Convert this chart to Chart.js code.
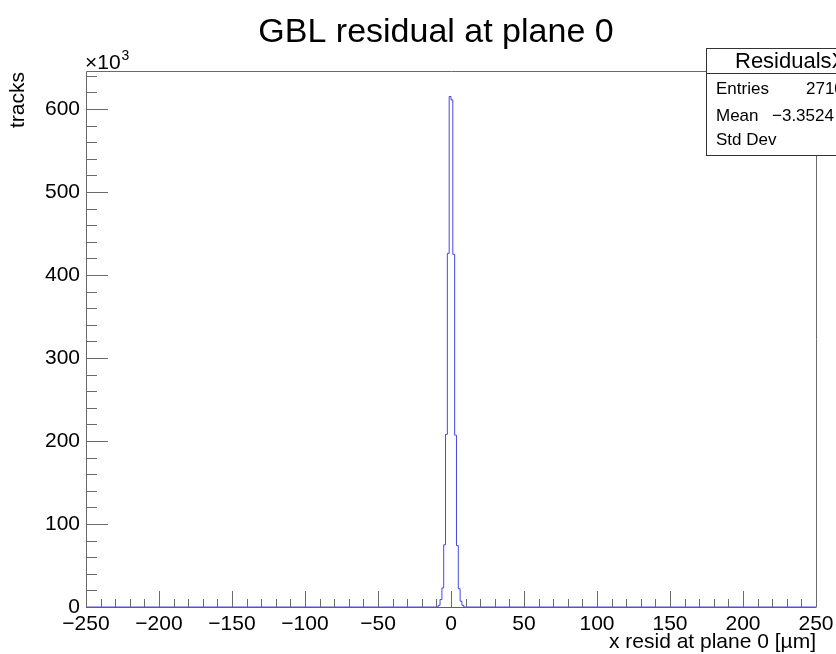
<!DOCTYPE html>
<html>
<head>
<meta charset="utf-8">
<script src="https://cdn.jsdelivr.net/npm/chart.js@4.4.0/dist/chart.umd.min.js"></script>
<style>
  html, body { margin: 0; padding: 0; background: #fff; }
  #hist { display: block; }
</style>
</head>
<body>
<canvas id="hist" width="836" height="654"></canvas>
<script>
// binning of the residual histogram (um)
var xLow = -250;
var xHigh = 250;
var nBins = 400;
// filled bins around zero, first one is bin index firstBin
var firstBin = 193;
var peakCounts = [2000, 9000, 23000, 75000, 208000, 426000, 615000, 611000, 425000, 207000, 74000, 22000, 7000, 2000];
var xTicks = [-250, -200, -150, -100, -50, 0, 50, 100, 150, 200, 250];
var yTicks = [0, 100000, 200000, 300000, 400000, 500000, 600000];
var statNames = ['Entries', 'Mean', 'Std Dev'];
var statValues = ['2710434', '\u22123.3524', ''];

var FONT = "'Liberation Sans', Arial, Helvetica, sans-serif";
var binWidth = (xHigh - xLow) / nBins;
var points = [];
for (var i = 0; i < nBins; i++) {
    var k = i - firstBin;
    var c = (k >= 0 && k < peakCounts.length) ? peakCounts[k] : 0;
    points.push({x: xLow + i * binWidth, y: c});
}
points.push({x: xHigh, y: 0});
var yMax = Math.max.apply(null, peakCounts) * 1.05;

function minus(s) {
    return String(s).replace('-', '\u2212');
}

// ROOT style frame: inward ticks, x10^3 exponent, stats box, axis titles
var rootFrame = {
    id: 'rootFrame',
    afterDatasetsDraw: function(chart) {
        var ctx = chart.ctx, a = chart.chartArea;
        var xs = chart.scales.x, ys = chart.scales.y;
        ctx.save();
        ctx.strokeStyle = '#6a6a6a';
        ctx.lineWidth = 1;
        ctx.beginPath();
        ctx.moveTo(a.left + 0.5, a.bottom + 0.5);
        ctx.lineTo(a.left + 0.5, a.top + 0.5);
        ctx.lineTo(a.right + 0.5, a.top + 0.5);
        ctx.lineTo(a.right + 0.5, a.bottom + 0.5);
        ctx.stroke();

        // x ticks, 5 divisions between labels
        var xStep = (xTicks[1] - xTicks[0]) / 5;
        ctx.beginPath();
        for (var v = xLow; v <= xHigh + 1e-9; v += xStep) {
            var px = Math.round(xs.getPixelForValue(v)) + 0.5;
            var major = Math.abs(v % 50) < 1e-6;
            var len = major ? 16 : 8;
            ctx.moveTo(px, a.bottom);
            ctx.lineTo(px, a.bottom - len);
        }
        // y ticks
        var yStep = (yTicks[1] - yTicks[0]) / 5;
        for (var w = 0; w <= yMax; w += yStep) {
            var py = Math.round(ys.getPixelForValue(w)) + 0.5;
            var majorY = Math.abs(w % 100000) < 1e-6;
            var lenY = majorY ? 22 : 11;
            ctx.moveTo(a.left, py);
            ctx.lineTo(a.left + lenY, py);
        }
        ctx.stroke();

        // bottom axis line
        ctx.strokeStyle = '#5a5a9a';
        ctx.beginPath();
        ctx.moveTo(a.left, a.bottom + 0.5);
        ctx.lineTo(a.right, a.bottom + 0.5);
        ctx.stroke();
        ctx.restore();
    },
    afterDraw: function(chart) {
        var ctx = chart.ctx, a = chart.chartArea;
        ctx.save();
        ctx.fillStyle = '#000';

        // title
        ctx.font = '34px ' + FONT;
        ctx.textAlign = 'center';
        ctx.textBaseline = 'alphabetic';
        ctx.fillText('GBL residual at plane 0', 436, 42);

        // exponent
        ctx.font = '21px ' + FONT;
        ctx.textAlign = 'left';
        ctx.fillText('\u00d710', a.left - 1, 69);
        var wx = ctx.measureText('\u00d710').width;
        ctx.font = '14px ' + FONT;
        ctx.fillText('3', a.left - 1 + wx + 1, 60);

        // axis titles
        ctx.font = '21px ' + FONT;
        ctx.textAlign = 'right';
        ctx.fillText('x resid at plane 0 [\u00b5m]', a.right, 648);
        ctx.save();
        ctx.translate(18, a.top + 1);
        ctx.rotate(-Math.PI / 2);
        ctx.textBaseline = 'middle';
        ctx.fillText('tracks', 0, 0);
        ctx.restore();

        // stats box
        var bx = 706.5, by = 48.5, bw = 180, bh = 107;
        ctx.fillStyle = '#fff';
        ctx.fillRect(bx, by, bw, bh);
        ctx.strokeStyle = '#333';
        ctx.lineWidth = 1;
        ctx.strokeRect(bx, by, bw, bh);
        ctx.beginPath();
        ctx.moveTo(bx, 73.5);
        ctx.lineTo(bx + bw, 73.5);
        ctx.stroke();
        ctx.fillStyle = '#000';
        ctx.textAlign = 'left';
        ctx.textBaseline = 'middle';
        ctx.font = '22px ' + FONT;
        ctx.fillText('ResidualsX', 735, 62);
        ctx.font = '17px ' + FONT;
        var rowsY = [89, 116, 140];
        var valX = [806, 772, 900];
        for (var r = 0; r < statNames.length; r++) {
            ctx.fillText(statNames[r], 716, rowsY[r]);
            ctx.fillText(statValues[r], valX[r], rowsY[r]);
        }
        ctx.restore();
    }
};

var ctx = document.getElementById('hist').getContext('2d');
var chart = new Chart(ctx, {
    type: 'line',
    data: {
        datasets: [{
            label: 'ResidualsX',
            data: points,
            stepped: true,
            borderColor: 'rgba(40, 40, 225, 0.85)',
            borderWidth: 1,
            pointRadius: 0,
            fill: false,
            clip: 2
        }]
    },
    options: {
        responsive: false,
        animation: false,
        devicePixelRatio: 1,
        layout: { padding: { left: 0, top: 71, right: 20, bottom: 0 } },
        plugins: {
            legend: { display: false },
            tooltip: { enabled: false },
            title: { display: false }
        },
        scales: {
            x: {
                type: 'linear',
                min: xLow,
                max: xHigh,
                afterBuildTicks: function(s) { s.ticks = xTicks.map(function(v) { return {value: v}; }); },
                afterFit: function(s) {
                    s.height = 47;
                    s.paddingLeft = 0;
                    s.paddingRight = 0;
                },
                grid: { display: false, drawTicks: false },
                border: { display: false },
                ticks: {
                    autoSkip: false,
                    maxRotation: 0,
                    padding: 5,
                    color: '#000',
                    font: { family: FONT, size: 21 },
                    callback: function(v) { return minus(v); }
                }
            },
            y: {
                type: 'linear',
                min: 0,
                max: yMax,
                afterBuildTicks: function(s) { s.ticks = yTicks.map(function(v) { return {value: v}; }); },
                afterFit: function(s) {
                    s.width = 86;
                    s.paddingTop = 0;
                    s.paddingBottom = 0;
                },
                grid: { display: false, drawTicks: false },
                border: { display: false },
                ticks: {
                    padding: 6,
                    color: '#000',
                    font: { family: FONT, size: 21 },
                    callback: function(v) { return String(v / 1000); }
                }
            }
        }
    },
    plugins: [rootFrame]
});
</script>
</body>
</html>
